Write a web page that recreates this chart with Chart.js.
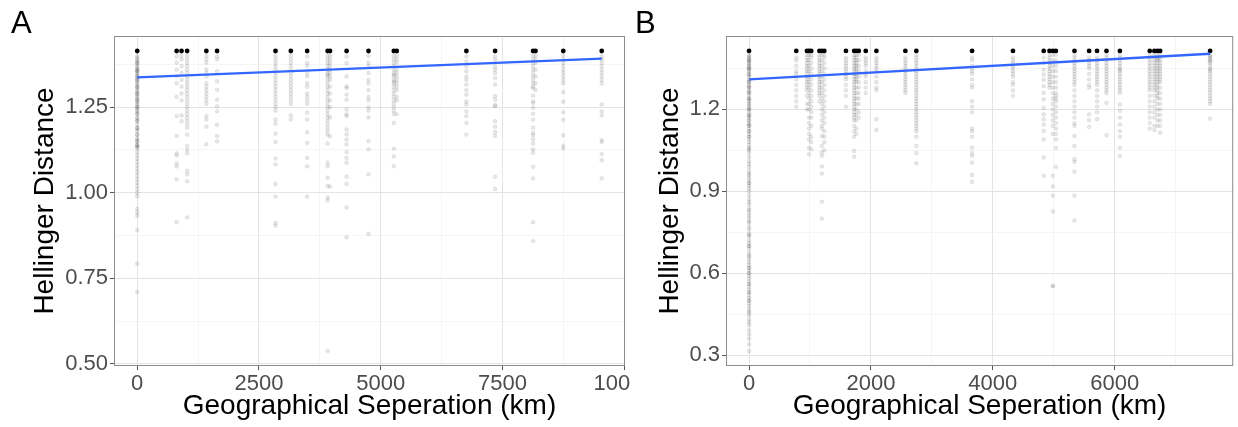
<!DOCTYPE html>
<html><head><meta charset="utf-8">
<script src="https://cdn.jsdelivr.net/npm/chart.js@4.4.1/dist/chart.umd.min.js"></script>
<style>
body{margin:0;background:#fff;width:1238px;height:427px;overflow:hidden;position:relative;font-family:"Liberation Sans",Arial,sans-serif}
canvas{position:absolute;top:0}
#cA{left:0;width:631px;height:427px}
#cB{left:631px;width:607px;height:427px}
.lab{position:absolute;font-size:31px;line-height:31px;color:#000}
</style></head><body>
<canvas id="cA" width="631" height="427"></canvas>
<canvas id="cB" width="607" height="427"></canvas>
<div class="lab" style="left:11px;top:7px">A</div>
<div class="lab" style="left:635px;top:7px">B</div>
<script>
// ---------- Panel A data ----------
const distA = [0, 810, 910, 1025, 1420, 1640, 2840, 3155, 3490, 3910, 3960, 4300, 4750, 5270, 5330, 6760, 7350, 8130, 8180, 8750, 9540];
const hellA = [
 /*0*/[1.40,1.395,1.39,1.385,1.38,1.37,1.365,1.36,1.355,1.35,1.345,1.34,1.335,1.33,1.32,1.315,1.31,1.30,1.295,1.29,1.285,1.28,1.27,1.265,1.26,1.25,1.245,1.24,1.235,1.23,1.22,1.215,1.21,1.20,1.19,1.185,1.18,1.17,1.16,1.155,1.15,1.14,1.135,1.13,1.12,1.11,1.10,1.09,1.08,1.07,1.06,1.05,1.04,1.03,1.02,1.01,1.00,0.99,0.953,0.943,0.933,0.891,0.793,0.710,1.38,1.36,1.34,1.33,1.31,1.29,1.27,1.25,1.23,1.21,1.19,1.17,1.15,1.14,1.135,1.375,1.355,1.325,1.305,1.275,1.255],
 /*810*/[1.398,1.38,1.36,1.34,1.32,1.28,1.224,1.166,1.115,1.109,1.086,1.077,1.039,0.914],
 /*910*/[1.40,1.39,1.37,1.35,1.33,1.31,1.29,1.27,1.226,1.209],
 /*1025*/[1.40,1.39,1.38,1.37,1.36,1.35,1.34,1.33,1.32,1.31,1.30,1.29,1.28,1.27,1.26,1.25,1.24,1.23,1.22,1.21,1.20,1.19,1.17,1.137,1.125,1.115,1.064,1.054,1.034,0.928],
 /*1420*/[1.40,1.39,1.38,1.36,1.35,1.34,1.32,1.31,1.30,1.29,1.28,1.27,1.26,1.224,1.214,1.193,1.142],
 /*1640*/[1.398,1.39,1.355,1.326,1.301,1.272,1.253,1.238,1.199,1.166,1.150],
 /*2840*/[1.40,1.39,1.38,1.37,1.36,1.35,1.34,1.33,1.32,1.31,1.30,1.29,1.28,1.27,1.26,1.25,1.24,1.214,1.202,1.173,1.148,1.10,1.083,1.026,0.989,0.912,0.904],
 /*3155*/[1.40,1.39,1.38,1.37,1.36,1.35,1.34,1.33,1.32,1.31,1.30,1.29,1.28,1.27,1.26,1.226,1.214],
 /*3490*/[1.398,1.38,1.37,1.35,1.34,1.32,1.31,1.29,1.28,1.27,1.26,1.234,1.214,1.177,1.146,1.102,1.077,0.989],
 /*3910*/[1.40,1.39,1.38,1.37,1.36,1.35,1.345,1.34,1.33,1.32,1.31,1.30,1.29,1.28,1.27,1.26,1.25,1.24,1.23,1.22,1.21,1.20,1.19,1.18,1.17,1.144,1.088,1.078,1.044,1.02,0.986,0.978,0.538],
 /*3960*/[1.40,1.39,1.38,1.37,1.36,1.35,1.34,1.33,1.31,1.29,1.27,1.25,1.22,1.165,1.018],
 /*4300*/[1.398,1.379,1.34,1.311,1.306,1.287,1.272,1.243,1.229,1.224,1.185,1.171,1.156,1.141,1.119,1.102,1.088,1.047,1.026,0.957,0.870],
 /*4750*/[1.40,1.38,1.37,1.35,1.33,1.32,1.30,1.28,1.27,1.25,1.24,1.22,1.151,1.127,1.054,0.88],
 /*5270*/[1.40,1.39,1.38,1.37,1.36,1.35,1.345,1.34,1.33,1.325,1.32,1.31,1.30,1.29,1.28,1.27,1.26,1.25,1.24,1.23,1.204,1.129,1.106,1.078],
 /*5330*/[1.40,1.39,1.38,1.36,1.35,1.34,1.33,1.32,1.31,1.30,1.28,1.27,1.23],
 /*6760*/[1.398,1.384,1.369,1.355,1.34,1.33,1.316,1.30,1.287,1.267,1.258,1.238,1.224,1.204,1.17],
 /*7350*/[1.398,1.389,1.369,1.36,1.35,1.335,1.316,1.282,1.272,1.256,1.253,1.209,1.193,1.177,1.166,1.047,1.011],
 /*8130*/[1.40,1.39,1.38,1.37,1.36,1.35,1.34,1.33,1.32,1.31,1.306,1.284,1.267,1.262,1.248,1.231,1.214,1.19,1.175,1.168,1.156,1.144,1.127,1.117,1.076,1.042,0.914,0.859],
 /*8180*/[1.40,1.39,1.38,1.36,1.34,1.32,1.30],
 /*8750*/[1.40,1.39,1.38,1.37,1.36,1.35,1.34,1.33,1.32,1.294,1.266,1.235,1.213,1.168,1.137,1.129],
 /*9540*/[1.398,1.39,1.38,1.37,1.36,1.35,1.34,1.33,1.32,1.258,1.238,1.226,1.154,1.148,1.113,1.095,1.042]
];
const fitAx = [0, 9540];
const fitAy = [1.337, 1.392];
const xTicksA = [0, 2500, 5000, 7500, 10000];
const xMinorA = [1250, 3750, 6250, 8750];
const yTicksA = [0.50, 0.75, 1.00, 1.25];
const yMinorA = [0.625, 0.875, 1.125, 1.375];

// ---------- Panel B data ----------
const distB = [0, 775, 950, 985, 1020, 1155, 1195, 1235, 1590, 1725, 1760, 1800, 1915, 2090, 2565, 2745, 3660, 4330, 4835, 4930, 4985, 5035, 5340, 5580, 5710, 5865, 6085, 6575, 6650, 6700, 6745, 7565];
const hellB = [
 /*0*/[1.40,1.395,1.39,1.385,1.38,1.375,1.37,1.365,1.36,1.355,1.35,1.345,1.34,1.33,1.325,1.32,1.31,1.305,1.30,1.29,1.285,1.28,1.27,1.265,1.26,1.25,1.24,1.235,1.23,1.22,1.21,1.205,1.20,1.19,1.18,1.175,1.17,1.16,1.15,1.145,1.14,1.13,1.12,1.11,1.10,1.09,1.08,1.07,1.06,1.055,1.04,1.025,1.01,1.00,0.99,0.975,0.965,0.95,0.94,0.93,0.92,0.91,0.90,0.885,0.87,0.86,0.85,0.835,0.82,0.81,0.80,0.785,0.77,0.76,0.745,0.735,0.72,0.71,0.70,0.69,0.675,0.665,0.65,0.64,0.63,0.62,0.61,0.60,0.59,0.58,0.57,0.56,0.55,0.54,0.53,0.52,0.51,0.50,0.49,0.48,0.47,0.455,0.445,0.43,0.42,0.41,0.39,0.375,0.36,0.34,0.315,1.38,1.35,1.33,1.30,1.28,1.26,1.24,1.22,1.20,1.18,1.16,1.14,1.12,1.10,1.05,0.96,0.93,0.83,0.79,0.74,0.70,0.66,0.62,0.60,0.56,0.53,0.50,0.46],
 /*775*/[1.39,1.38,1.36,1.34,1.33,1.31,1.29,1.27,1.25,1.23,1.21],
 /*950*/[1.40,1.39,1.38,1.37,1.36,1.35,1.34,1.33,1.32,1.31,1.30,1.29,1.28,1.27,1.25,1.22,1.20],
 /*985*/[1.40,1.38,1.36,1.34,1.32,1.30,1.28,1.26,1.24,1.22,1.20,1.17,1.15,1.13,1.11,1.09,1.06,1.036],
 /*1020*/[1.40,1.39,1.37,1.35,1.33,1.31,1.29,1.27,1.25,1.23,1.21,1.19,1.17,1.14,1.10,1.08,1.054],
 /*1155*/[1.40,1.39,1.38,1.37,1.36,1.35,1.34,1.33,1.32,1.31,1.30,1.29,1.28,1.27,1.26,1.25,1.23],
 /*1195*/[1.40,1.38,1.36,1.34,1.32,1.30,1.28,1.26,1.24,1.22,1.20,1.18,1.16,1.14,1.13,1.103,1.066,1.042,1.03,0.991,0.965,0.862,0.80],
 /*1235*/[1.40,1.39,1.37,1.35,1.33,1.31,1.29,1.27,1.25,1.23,1.21,1.19,1.17,1.15,1.12,1.10,1.08,1.05],
 /*1590*/[1.39,1.38,1.37,1.36,1.35,1.34,1.33,1.32,1.31,1.29,1.27,1.25,1.21],
 /*1725*/[1.40,1.39,1.38,1.37,1.36,1.35,1.34,1.33,1.32,1.31,1.30,1.29,1.28,1.27,1.26,1.25,1.24,1.23,1.22,1.21,1.20,1.19,1.18,1.17,1.16,1.14,1.12,1.10,1.048,1.027],
 /*1760*/[1.40,1.39,1.38,1.37,1.36,1.35,1.34,1.33,1.32,1.31,1.30,1.28,1.26,1.24,1.22,1.20,1.18,1.16,1.13,1.11],
 /*1800*/[1.40,1.38,1.36,1.34,1.32,1.30,1.28,1.26,1.24,1.22,1.19,1.17],
 /*1915*/[1.39,1.38,1.37,1.36,1.34,1.33,1.32,1.30,1.28,1.26],
 /*2090*/[1.39,1.38,1.37,1.36,1.35,1.34,1.32,1.30,1.28,1.27,1.164,1.125],
 /*2565*/[1.39,1.38,1.37,1.36,1.35,1.34,1.33,1.32,1.31,1.30,1.29,1.28,1.27,1.26],
 /*2745*/[1.40,1.39,1.38,1.37,1.36,1.35,1.34,1.33,1.32,1.31,1.30,1.29,1.28,1.27,1.26,1.25,1.24,1.23,1.22,1.21,1.20,1.19,1.18,1.17,1.16,1.15,1.14,1.13,1.12,1.10,1.066,1.04,1.003],
 /*3660*/[1.39,1.38,1.36,1.35,1.34,1.33,1.31,1.29,1.28,1.23,1.21,1.19,1.13,1.12,1.10,1.06,1.04,1.03,1.005,0.96,0.935],
 /*4330*/[1.39,1.38,1.37,1.36,1.35,1.34,1.33,1.32,1.30,1.29,1.27,1.25],
 /*4835*/[1.39,1.37,1.346,1.328,1.309,1.285,1.261,1.237,1.206,1.182,1.164,1.145,1.121,1.09,1.024,0.957],
 /*4930*/[1.40,1.39,1.38,1.37,1.36,1.35,1.34,1.33,1.32,1.31,1.30,1.29,1.28],
 /*4985*/[1.40,1.38,1.36,1.34,1.32,1.30,1.28,1.26,1.24,1.22,1.20,1.18,1.16,1.14,1.11,0.957,0.918,0.884,0.826,0.554,0.552],
 /*5035*/[1.40,1.38,1.36,1.34,1.32,1.30,1.28,1.26,1.25,1.24,1.23,1.21,1.19,1.17,1.15,1.13,1.11,1.09,1.059,0.99],
 /*5340*/[1.40,1.39,1.38,1.37,1.36,1.35,1.34,1.33,1.32,1.31,1.30,1.29,1.27,1.25,1.23,1.21,1.19,1.17,1.15,1.14,1.103,1.066,1.018,1.008,0.972,0.884,0.793],
 /*5580*/[1.39,1.38,1.37,1.36,1.35,1.33,1.31,1.29,1.28,1.182,1.161,1.136],
 /*5710*/[1.39,1.38,1.37,1.36,1.35,1.34,1.33,1.32,1.31,1.30,1.29,1.27,1.25,1.23,1.21,1.19,1.164],
 /*5865*/[1.40,1.39,1.38,1.37,1.36,1.35,1.34,1.33,1.32,1.31,1.30,1.29,1.28,1.27,1.26,1.224,1.106],
 /*6085*/[1.40,1.39,1.38,1.37,1.36,1.35,1.345,1.34,1.33,1.32,1.31,1.30,1.29,1.28,1.27,1.26,1.218,1.195,1.17,1.145,1.12,1.10,1.06,1.03],
 /*6575*/[1.40,1.39,1.38,1.37,1.36,1.35,1.34,1.33,1.32,1.31,1.30,1.29,1.28,1.27,1.25,1.23,1.21,1.19,1.17,1.15,1.13],
 /*6650*/[1.40,1.39,1.38,1.37,1.36,1.35,1.34,1.33,1.32,1.31,1.30,1.29,1.28,1.27,1.25,1.23,1.21,1.19,1.17,1.14,1.125],
 /*6700*/[1.40,1.39,1.385,1.38,1.37,1.36,1.35,1.34,1.33,1.32,1.31,1.30,1.29,1.28,1.27,1.26,1.25,1.24,1.22,1.20,1.18,1.16,1.14],
 /*6745*/[1.40,1.39,1.38,1.37,1.36,1.35,1.34,1.33,1.32,1.31,1.30,1.28,1.26,1.24,1.22,1.20,1.18,1.16,1.14,1.115],
 /*7565*/[1.40,1.395,1.39,1.385,1.38,1.375,1.37,1.36,1.35,1.345,1.34,1.33,1.32,1.31,1.30,1.29,1.28,1.27,1.26,1.25,1.24,1.23,1.22,1.166]
];
const fitBx = [0, 7565];
const fitBy = [1.310, 1.404];
const xTicksB = [0, 2000, 4000, 6000];
const xMinorB = [1000, 3000, 5000, 7000];
const yTicksB = [0.3, 0.6, 0.9, 1.2];
const yMinorB = [0.45, 0.75, 1.05, 1.35];

// value shared by the saturated (completely dissimilar) pairs
const maxH = 1.4142;

Chart.defaults.font.family = '"Liberation Sans", Arial, sans-serif';

function near(v, list){ return list.some(t => Math.abs(t - v) < 1e-6); }

const frame = {
  id: 'frame',
  afterDatasetsDraw(chart){
    const {ctx, chartArea: a} = chart;
    ctx.save();
    ctx.strokeStyle = '#8c8c8c';
    ctx.lineWidth = 1;
    ctx.strokeRect(a.left + 0.5, a.top + 0.5, a.right - a.left - 1, a.bottom - a.top - 1);
    ctx.restore();
  }
};

function axisGrid(majors){
  const isMaj = c => !!(c.tick && near(c.tick.value, majors));
  return {
    color: c => isMaj(c) ? '#e4e4e4' : '#f1f1f1',
    lineWidth: c => isMaj(c) ? 1 : 0.7,
    tickColor: c => isMaj(c) ? '#555' : 'rgba(0,0,0,0)',
    tickLength: 4, drawTicks: true
  };
}

function panel(id, dist, hell, fitX, fitY, cfg){
  const pts = [];
  dist.forEach((d, i) => hell[i].forEach(h => pts.push({x: d, y: h})));
  const caps = dist.map(d => ({x: d, y: maxH}));
  const fit = fitX.map((x, i) => ({x: x, y: fitY[i]}));
  const xAll = cfg.xTicks.concat(cfg.xMinor).sort((a, b) => a - b);
  const yAll = cfg.yTicks.concat(cfg.yMinor).sort((a, b) => a - b);
  return new Chart(document.getElementById(id), {
    type: 'scatter',
    data: {datasets: [
      {type: 'line', data: fit, borderColor: '#3366FF', borderWidth: 2.3, pointRadius: 0, fill: false, order: 0},
      {data: caps, backgroundColor: '#000', borderWidth: 0, pointRadius: 2.4, order: 1},
      {data: pts, backgroundColor: 'rgba(0,0,0,0.09)', borderColor: 'rgba(0,0,0,0.09)', borderWidth: 0.8, pointRadius: 1.9, order: 2}
    ]},
    options: {
      responsive: false, animation: false, events: [],
      layout: {padding: {top: 36, right: cfg.rightPad, left: 0, bottom: 0}},
      plugins: {legend: {display: false}, tooltip: {enabled: false}},
      scales: {
        x: {
          type: 'linear', min: cfg.xMin, max: cfg.xMax,
          afterBuildTicks: s => { s.ticks = xAll.map(v => ({value: v})); },
          ticks: {autoSkip: false, maxRotation: 0, minRotation: 0,
                  color: '#4d4d4d', font: {size: 22}, padding: 1,
                  callback: v => near(v, cfg.xTicks) ? String(v) : ''},
          grid: axisGrid(cfg.xTicks),
          border: {display: false},
          title: {display: true, text: 'Geographical Seperation (km)', color: '#000', font: {size: 28}, padding: {top: 0, bottom: 4}},
          afterFit: s => { s.height = 61; s.paddingLeft = 0; s.paddingRight = 0; }
        },
        y: {
          type: 'linear', min: cfg.yMin, max: cfg.yMax,
          afterBuildTicks: s => { s.ticks = yAll.map(v => ({value: v})); },
          ticks: {autoSkip: false, color: '#4d4d4d', font: {size: 22}, padding: 2,
                  callback: v => near(v, cfg.yTicks) ? v.toFixed(cfg.yDec) : ''},
          grid: axisGrid(cfg.yTicks),
          border: {display: false},
          title: {display: true, text: 'Hellinger Distance', color: '#000', font: {size: 28}, padding: {top: cfg.yTitlePad, bottom: 0}},
          afterFit: s => { s.width = cfg.yWidth; s.paddingTop = 0; s.paddingBottom = 0; }
        }
      }
    },
    plugins: [frame]
  });
}

panel('cA', distA, hellA, fitAx, fitAy, {
  xMin: -477, xMax: 10018, xTicks: xTicksA, xMinor: xMinorA,
  yMin: 0.494, yMax: 1.458, yTicks: yTicksA, yMinor: yMinorA, yDec: 2,
  yWidth: 114, rightPad: 6, yTitlePad: 28
});
panel('cB', distB, hellB, fitBx, fitBy, {
  xMin: -378, xMax: 7944, xTicks: xTicksB, xMinor: xMinorB,
  yMin: 0.26, yMax: 1.469, yTicks: yTicksB, yMinor: yMinorB, yDec: 1,
  yWidth: 95, rightPad: 1, yTitlePad: 22
});
</script>
</body></html>
